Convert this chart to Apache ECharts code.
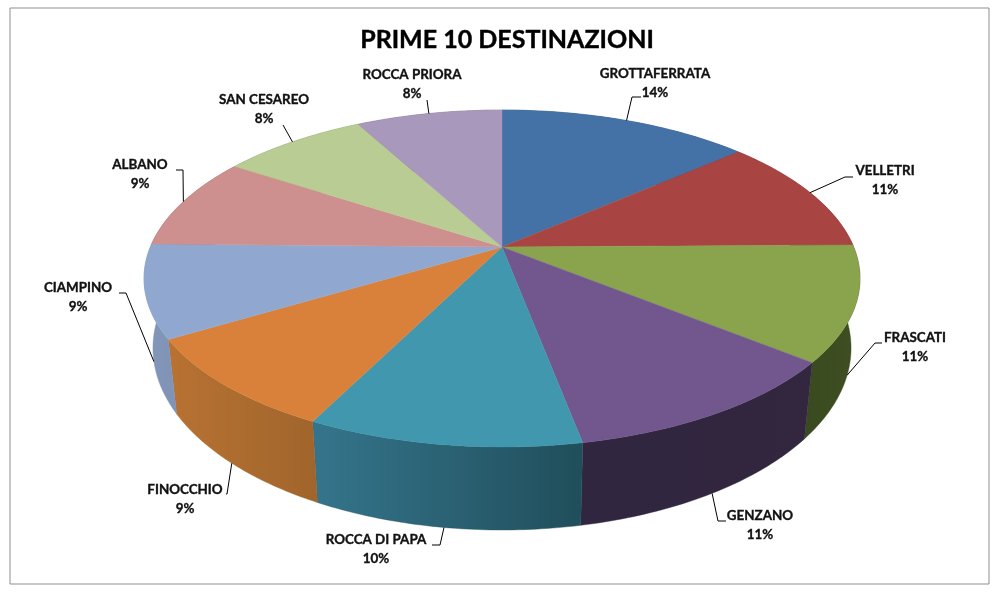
<!DOCTYPE html>
<html><head><meta charset="utf-8">
<style>html,body{margin:0;padding:0;background:#fff}#c{width:1000px;height:592px}</style>
<script src="https://cdn.jsdelivr.net/npm/echarts@6/dist/echarts.min.js"></script>
</head><body><div id="c"></div>
<script>
const categories = ['GROTTAFERRATA','VELLETRI','FRASCATI','GENZANO','ROCCA DI PAPA','FINOCCHIO','CIAMPINO','ALBANO','SAN CESAREO','ROCCA PRIORA'];
const shares = [13.6,11.2,11.0,11.2,10.4,9.0,8.9,8.9,7.9,7.9];
const topColors = ['#4472a6','#a84442','#89a44d','#71578e','#4097ae','#d9813b','#90a8d0','#ce908f','#b8cc93','#a898bc'];
const wallLeft = ['#2e4c70','#722f2d','#3a4a20','#30263f','#35758c','#b87232','#8497bb','#8c6362','#7c8964','#71687e'];
const wallRight = ['#2e4c70','#722f2d','#3f4f22','#33263f','#204e5b','#a0652c','#7f93b6','#8c6362','#7c8964','#71687e'];
// layout of labels (centre of the text block, leader elbows)
const labelCentres = [[655,84],[885,181],[915,348],[760,526],[376,550],[185,500],[78,298],[140,175],[264,110],[412,85]];
const labelElbows = [[[632,97],[641,97]],[[845,177],[853,177]],[[875,343],[882,343]],[[718,521],[726,521]],[[440,545],[432,545]],[[227,494],[226,494]],[[126,293],[119,293]],[[183,170],[176,170]],[[283,125],[283,125]],[[427,100],[427,100]]];

const G = {cx:502, cy:247, a:162.6, b:351.7, k:0.187, sx:0.975, sy:1.08, dy:67};
const total = shares.reduce((s,v)=>s+v,0);
const starts = []; shares.reduce((s,v,i)=>(starts[i]=s, s+v),0);
function topPt(t){ // t = turn fraction clockwise from 12 o'clock
  const th=t*2*Math.PI, u=Math.sin(th), v=-Math.cos(th), d=1-G.k*v;
  return [G.cx+G.b*u/d, G.cy+G.a*v/d, v];
}
function botPt(t){
  const p=topPt(t);
  return [G.cx+(p[0]-G.cx)*G.sx, G.cy+G.dy+G.sy*(p[1]-G.cy)];
}
function arc(fn,t0,t1){const n=48,o=[];for(let i=0;i<=n;i++)o.push(fn(t0+(t1-t0)*i/n).slice(0,2));return o;}

function renderWall(params,api){
  const i=params.dataIndex, t0=starts[i]/total, t1=t0+api.value(0)/total;
  const pts=arc(topPt,t0,t1).concat(arc(botPt,t0,t1).reverse());
  const grad={type:'linear',x:0,y:0,x2:1,y2:0,colorStops:[{offset:0,color:wallLeft[i]},{offset:1,color:wallRight[i]}]};
  return {type:'polygon',shape:{points:pts},style:{fill:grad,stroke:wallRight[i],lineWidth:0.4}};
}
function renderTop(params,api){
  const i=params.dataIndex, t0=starts[i]/total, t1=t0+api.value(0)/total;
  const pts=[[G.cx,G.cy]].concat(arc(topPt,t0,t1));
  return {type:'polygon',shape:{points:pts},style:{fill:topColors[i],stroke:topColors[i],lineWidth:0.4}};
}
function renderLabel(params,api){
  const i=params.dataIndex, t=(starts[i]+api.value(0)/2)/total, top=topPt(t);
  const a=top[2]>0?botPt(t):top;
  const c=labelCentres[i];
  const pct=Math.round(api.value(0)/total*100)+'%';
  const font='bold 13.4px Lato, "Open Sans", sans-serif';
  const st={align:'center',verticalAlign:'middle',font:font,fill:'#111',stroke:'#111',lineWidth:0.35};
  return {type:'group',children:[
    {type:'polyline',shape:{points:[[a[0],a[1]]].concat(labelElbows[i])},style:{fill:null,stroke:'#000',lineWidth:1}},
    {type:'text',style:Object.assign({text:categories[i],x:c[0],y:c[1]-10},st)},
    {type:'text',style:Object.assign({text:pct,x:c[0],y:c[1]+9},st)}
  ]};
}
const chart=echarts.init(document.getElementById('c'));
const seriesData=shares.map((v,i)=>({name:categories[i],value:[v]}));
chart.setOption({
  animation:false,
  backgroundColor:'#fff',
  title:{text:'PRIME 10 DESTINAZIONI',left:502,top:22,textAlign:'center',textStyle:{fontFamily:'Lato, "Open Sans", sans-serif',fontWeight:'bold',fontSize:25,color:'#000',textBorderColor:'#000',textBorderWidth:0.4}},
  graphic:[{type:'rect',shape:{x:10,y:8,width:979,height:576},style:{fill:'#fff',stroke:'#8f8f8f',lineWidth:1},z:-10,silent:true}],
  series:[
    {type:'custom',coordinateSystem:'none',renderItem:renderWall,data:seriesData,z:2,silent:true},
    {type:'custom',coordinateSystem:'none',renderItem:renderTop,data:seriesData,z:3,silent:true},
    {type:'custom',coordinateSystem:'none',renderItem:renderLabel,data:seriesData,z:4,silent:true}
  ]
});
</script></body></html>
